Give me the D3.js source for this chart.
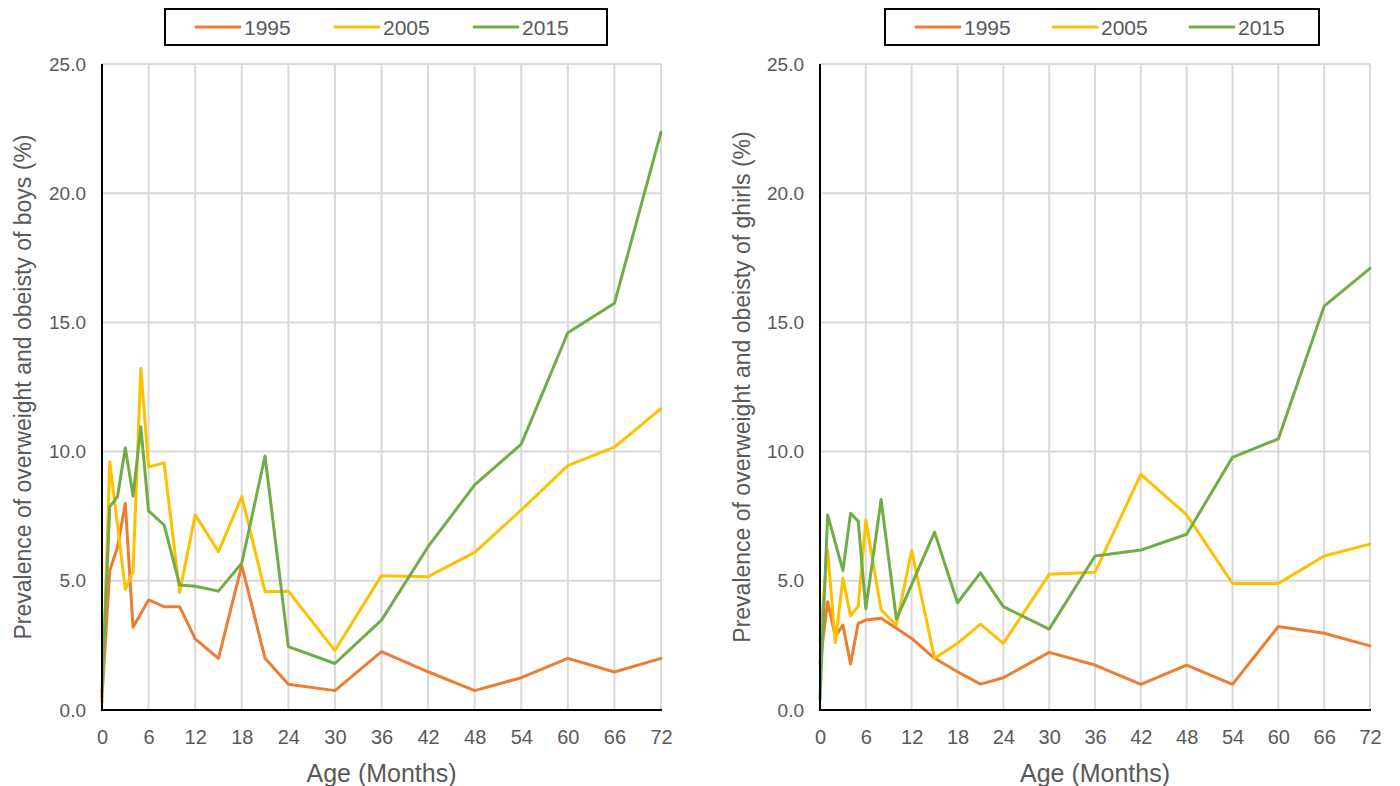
<!DOCTYPE html>
<html>
<head>
<meta charset="utf-8">
<script src="https://cdn.jsdelivr.net/npm/d3@7"></script>
<style>
  body { margin: 0; background: #fff; }
  svg text { font-family: "Liberation Sans", Arial, sans-serif; fill: #595959; }
</style>
</head>
<body>
<div id="chart"></div>
<script>
// age in months shared by all series (null = no point at that age)
let months = [0, 1, 2, 3, 4, 5, 6, 8, 10, 12, 15, 18, 21, 24, 30, 36, 42, 48, 54, 60, 66, 72];
let years = ['1995', '2005', '2015'];
let colors = ['#ED7D31', '#FFC000', '#70AD47'];

let boys1995 = [0.5, 5.4, 6.3, 8.0, 3.2, null, 4.26, 4.0, 4.0, 2.75, 2.0, 5.6, 2.0, 1.0, 0.75, 2.26, 1.48, 0.75, 1.25, 2.0, 1.47, 2.0];
let boys2005 = [0.3, 9.6, null, 4.67, 5.35, 13.22, 9.4, 9.57, 4.55, 7.55, 6.13, 8.26, 4.58, 4.6, 2.3, 5.2, 5.16, 6.1, 7.74, 9.46, 10.17, 11.66];
let boys2015 = [0.7, 7.87, 8.26, 10.15, 8.28, 10.96, 7.71, 7.16, 4.84, 4.79, 4.6, 5.68, 9.83, 2.45, 1.8, 3.48, 6.32, 8.71, 10.29, 14.6, 15.74, 22.36];

let girls1995 = [1.8, 4.19, 2.84, 3.29, 1.78, 3.35, 3.48, 3.55, 3.16, 2.77, 2.0, 1.48, 1.0, 1.25, 2.23, 1.74, 0.99, 1.74, 0.99, 3.23, 2.97, 2.48];
let girls2005 = [2.7, 6.19, 2.6, 5.1, 3.64, 4.02, 7.35, 3.87, 3.29, 6.17, 2.0, 2.58, 3.32, 2.58, 5.25, 5.33, 9.12, 7.55, 4.9, 4.9, 5.96, 6.42];
let girls2015 = [0.39, 7.55, null, 5.4, 7.61, 7.31, 3.92, 8.15, 3.51, null, 6.88, 4.15, 5.31, 4.0, 3.13, 5.96, 6.19, 6.8, 9.78, 10.49, 15.63, 17.09];

let xTicks = [0, 6, 12, 18, 24, 30, 36, 42, 48, 54, 60, 66, 72];
let yTicks = [0, 5, 10, 15, 20, 25];

let w = 1400;
let h = 786;

let svg = d3.select('#chart')
            .append('svg')
            .attr('width', w)
            .attr('height', h);

const drawPanel = (p) => {
  let xScale = d3.scaleLinear().domain([0, 72]).range([p.left, p.right]);
  let yScale = d3.scaleLinear().domain([0, 25]).range([p.bottom, p.top]);

  let g = svg.append('g');

  // grid
  g.selectAll('.hgrid')
   .data(yTicks.slice(1))
   .enter()
   .append('line')
   .attr('x1', p.left).attr('x2', p.right)
   .attr('y1', (d) => yScale(d)).attr('y2', (d) => yScale(d))
   .attr('stroke', '#d9d9d9').attr('stroke-width', 2);
  g.selectAll('.vgrid')
   .data(xTicks.slice(1))
   .enter()
   .append('line')
   .attr('x1', (d) => xScale(d)).attr('x2', (d) => xScale(d))
   .attr('y1', p.top).attr('y2', p.bottom)
   .attr('stroke', '#d9d9d9').attr('stroke-width', 2);

  // axes
  let xAxis = d3.axisBottom(xScale).tickValues(xTicks).tickSize(0).tickPadding(20);
  let yAxis = d3.axisLeft(yScale).tickValues(yTicks).tickSize(0).tickPadding(16).tickFormat(d3.format('.1f'));

  let gx = g.append('g').attr('transform', 'translate(0,' + p.bottom + ')').call(xAxis);
  let gy = g.append('g').attr('transform', 'translate(' + p.left + ',0)').call(yAxis);
  gx.select('.domain').remove();
  gy.select('.domain').remove();
  gx.selectAll('text').style('font-size', '20px').attr('fill', '#595959');
  gy.selectAll('text').style('font-size', '19px').attr('fill', '#595959');

  // series
  let line = d3.line()
               .x((d) => xScale(d[0]))
               .y((d) => yScale(d[1]));
  p.series.forEach((vals, i) => {
    let pts = months.map((m, j) => [m, vals[j]]).filter((d) => d[1] !== null);
    g.append('path')
     .attr('d', line(pts))
     .attr('fill', 'none')
     .attr('stroke', colors[i])
     .attr('stroke-width', 3)
     .attr('stroke-linejoin', 'round')
     .attr('stroke-linecap', 'round');
  });

  // axis lines on top
  g.append('line')
   .attr('x1', p.left).attr('x2', p.right + 1)
   .attr('y1', p.bottom).attr('y2', p.bottom)
   .attr('stroke', '#000').attr('stroke-width', 2);
  g.append('line')
   .attr('x1', p.left).attr('x2', p.left)
   .attr('y1', p.top).attr('y2', p.bottom + 1)
   .attr('stroke', '#000').attr('stroke-width', 2);

  // titles
  g.append('text')
   .attr('x', (p.left + p.right) / 2)
   .attr('y', 782)
   .attr('text-anchor', 'middle')
   .style('font-size', '25px')
   .text('Age (Months)');
  g.append('text')
   .attr('transform', 'translate(' + p.ytitleX + ',' + (p.top + p.bottom) / 2 + ') rotate(-90)')
   .attr('text-anchor', 'middle')
   .style('font-size', '23px')
   .text(p.ytitle);

  // legend
  let lg = g.append('g');
  lg.append('rect')
    .attr('x', p.legX).attr('y', 9)
    .attr('width', p.legW).attr('height', 36)
    .attr('fill', '#fff').attr('stroke', '#000').attr('stroke-width', 2);
  let items = lg.selectAll('.item')
                .data(years)
                .enter()
                .append('g')
                .attr('transform', (d, i) => 'translate(' + (p.legX + 31 + i * p.legStep) + ',27)');
  items.append('line')
       .attr('x1', 0).attr('x2', 44)
       .attr('y1', 0).attr('y2', 0)
       .attr('stroke', (d, i) => colors[i])
       .attr('stroke-width', 3)
       .attr('stroke-linecap', 'round');
  items.append('text')
       .attr('x', 48)
       .attr('y', 8)
       .style('font-size', '21px')
       .text((d) => d);
};

drawPanel({
  left: 102, right: 661, top: 64, bottom: 710,
  series: [boys1995, boys2005, boys2015],
  ytitle: 'Prevalence of overweight and obeisty of boys (%)',
  ytitleX: 31,
  legX: 165, legW: 442, legStep: 139
});

drawPanel({
  left: 820, right: 1370, top: 64, bottom: 710,
  series: [girls1995, girls2005, girls2015],
  ytitle: 'Prevalence of overweight and obeisty of ghirls (%)',
  ytitleX: 750,
  legX: 885, legW: 434, legStep: 137
});
</script>
</body>
</html>
